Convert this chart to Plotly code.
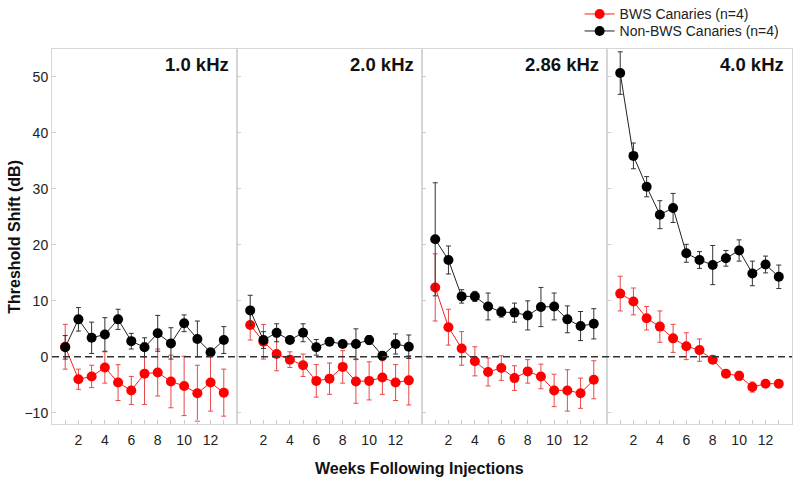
import plotly.graph_objects as go
from plotly.subplots import make_subplots

weeks = list(range(1, 14))
panels = ["1.0 kHz", "2.0 kHz", "2.86 kHz", "4.0 kHz"]

bws_mean = [
    [1.8, -4.0, -3.5, -1.9, -4.6, -6.0, -3.0, -2.8, -4.4, -5.2, -6.5, -4.6, -6.4],
    [5.7, 2.7, 0.5, -0.5, -1.5, -4.3, -3.9, -1.8, -4.4, -4.3, -3.7, -4.6, -4.2],
    [12.4, 5.3, 1.5, -0.8, -2.7, -2.0, -3.8, -2.6, -3.5, -6.0, -6.0, -6.5, -4.1],
    [11.3, 9.9, 6.9, 5.4, 3.3, 1.9, 1.2, -0.5, -3.0, -3.4, -5.4, -4.8, -4.8],
]
bws_err = [
    [4.0, 1.8, 2.0, 2.8, 3.2, 2.5, 5.5, 4.2, 4.7, 5.3, 5.0, 5.1, 4.2],
    [2.7, 3.1, 3.0, 1.4, 2.0, 2.9, 2.8, 2.9, 3.9, 3.4, 3.0, 3.2, 4.4],
    [6.0, 3.2, 3.0, 2.6, 2.5, 2.2, 2.2, 2.1, 2.2, 2.9, 3.7, 2.7, 3.4],
    [3.1, 2.4, 2.1, 2.8, 2.5, 2.4, 2.0, 0.6, 0.5, 0.8, 0.9, 0.6, 0.7],
]
non_mean = [
    [1.7, 6.7, 3.4, 4.0, 6.7, 2.8, 1.7, 4.2, 2.4, 6.0, 3.2, 0.8, 3.0],
    [8.3, 3.0, 4.3, 3.0, 4.3, 1.7, 2.7, 2.3, 2.3, 3.0, 0.2, 2.3, 1.8],
    [21.0, 17.3, 10.8, 10.8, 9.0, 8.0, 7.9, 7.4, 8.9, 9.0, 6.7, 5.5, 5.9],
    [50.7, 35.9, 30.4, 25.4, 26.6, 18.5, 17.3, 16.4, 17.6, 19.0, 14.9, 16.5, 14.3],
]
non_err = [
    [2.1, 2.1, 2.8, 3.0, 1.8, 1.4, 1.7, 3.2, 2.8, 1.5, 3.2, 0.6, 2.4],
    [2.7, 1.5, 1.6, 0.6, 1.6, 1.4, 0.7, 0.6, 2.7, 0.8, 0.7, 1.8, 2.1],
    [10.1, 2.5, 1.2, 0.9, 2.4, 0.9, 1.7, 2.6, 3.5, 2.4, 2.4, 2.6, 2.7],
    [3.8, 2.3, 1.8, 2.5, 2.6, 1.6, 1.5, 3.5, 1.4, 1.9, 2.2, 1.5, 2.1],
]
tick_vals = list(range(1, 14))
tick_text = ["" if v % 2 else str(v) for v in tick_vals]
y_ticks = [-10, 0, 10, 20, 30, 40, 50]

FONT = "Liberation Sans, Arial, sans-serif"
BORDER = "#d6d6d6"

fig = make_subplots(rows=1, cols=4, shared_yaxes=True, horizontal_spacing=0)

for i in range(4):
    col = i + 1
    fig.add_trace(go.Scatter(
        x=weeks, y=bws_mean[i], mode="lines+markers",
        name="BWS Canaries (n=4)", legendgroup="bws", showlegend=(i == 0),
        legend="legend",
        line=dict(color="#ff1a1a", width=1),
        marker=dict(color="#ff0000", size=10),
        error_y=dict(type="data", array=bws_err[i], color="#e84848", thickness=1, width=2.5),
    ), row=1, col=col)
    fig.add_trace(go.Scatter(
        x=weeks, y=non_mean[i], mode="lines+markers",
        name="Non-BWS Canaries (n=4)", legendgroup="non", showlegend=(i == 0),
        legend="legend2",
        line=dict(color="#222222", width=1),
        marker=dict(color="#000000", size=10),
        error_y=dict(type="data", array=non_err[i], color="#333333", thickness=1, width=2.5),
    ), row=1, col=col)
    fig.update_xaxes(
        range=[0, 14], tickvals=tick_vals, ticktext=tick_text,
        ticks="inside", ticklen=4, tickcolor="#cccccc", ticklabelstandoff=3,
        showline=True, linecolor=BORDER, linewidth=1, mirror=True,
        showgrid=False, zeroline=False, automargin=False,
        tickfont=dict(family=FONT, size=14, color="#222"),
        row=1, col=col)
    fig.update_yaxes(
        range=[-12, 55], tickvals=y_ticks,
        ticks="inside", ticklen=4, tickcolor="#cccccc",
        showline=True, linecolor=BORDER, linewidth=1, mirror=True,
        showgrid=False, zeroline=False, automargin=False,
        tickfont=dict(family=FONT, size=14, color="#222"),
        row=1, col=col)
    xd = "x domain" if i == 0 else f"x{col} domain"
    yd = "y domain" if i == 0 else f"y{col} domain"
    fig.add_annotation(
        text=f"<b>{panels[i]}</b>", xref=xd, yref=yd, x=0.97, y=0.959,
        xanchor="right", yanchor="middle", showarrow=False,
        font=dict(family=FONT, size=18.5, color="#111"))

fig.add_shape(type="line", xref="paper", yref="y", x0=0, x1=1, y0=0, y1=0,
              line=dict(color="#333333", width=1.5, dash="7px,4px"))

fig.add_annotation(text="<b>Threshold Shift (dB)</b>", xref="paper", yref="paper",
                   x=-0.051, y=0.5, xanchor="center", yanchor="middle", textangle=-90,
                   showarrow=False, font=dict(family=FONT, size=16, color="#111"))

fig.add_annotation(text="<b>Weeks Following Injections</b>", xref="paper", yref="paper",
                   x=0.497, y=-0.118, xanchor="center", yanchor="middle", showarrow=False,
                   font=dict(family=FONT, size=16, color="#111"))

legend_style = dict(xanchor="left", yanchor="top", bgcolor="rgba(0,0,0,0)",
                    font=dict(family=FONT, size=14, color="#222"), itemwidth=30)

fig.update_layout(
    width=800, height=485,
    margin=dict(l=52, r=8, t=49, b=61, autoexpand=False),
    paper_bgcolor="white", plot_bgcolor="white",
    font=dict(family=FONT, size=14, color="#222"),
    legend=dict(x=0.713, y=1.135, **legend_style),
    legend2=dict(x=0.713, y=1.135 - 17 / 375, **legend_style),
)

fig.write_html("out.html", config={"displayModeBar": False},
               post_script="document.body.style.margin='0';")
